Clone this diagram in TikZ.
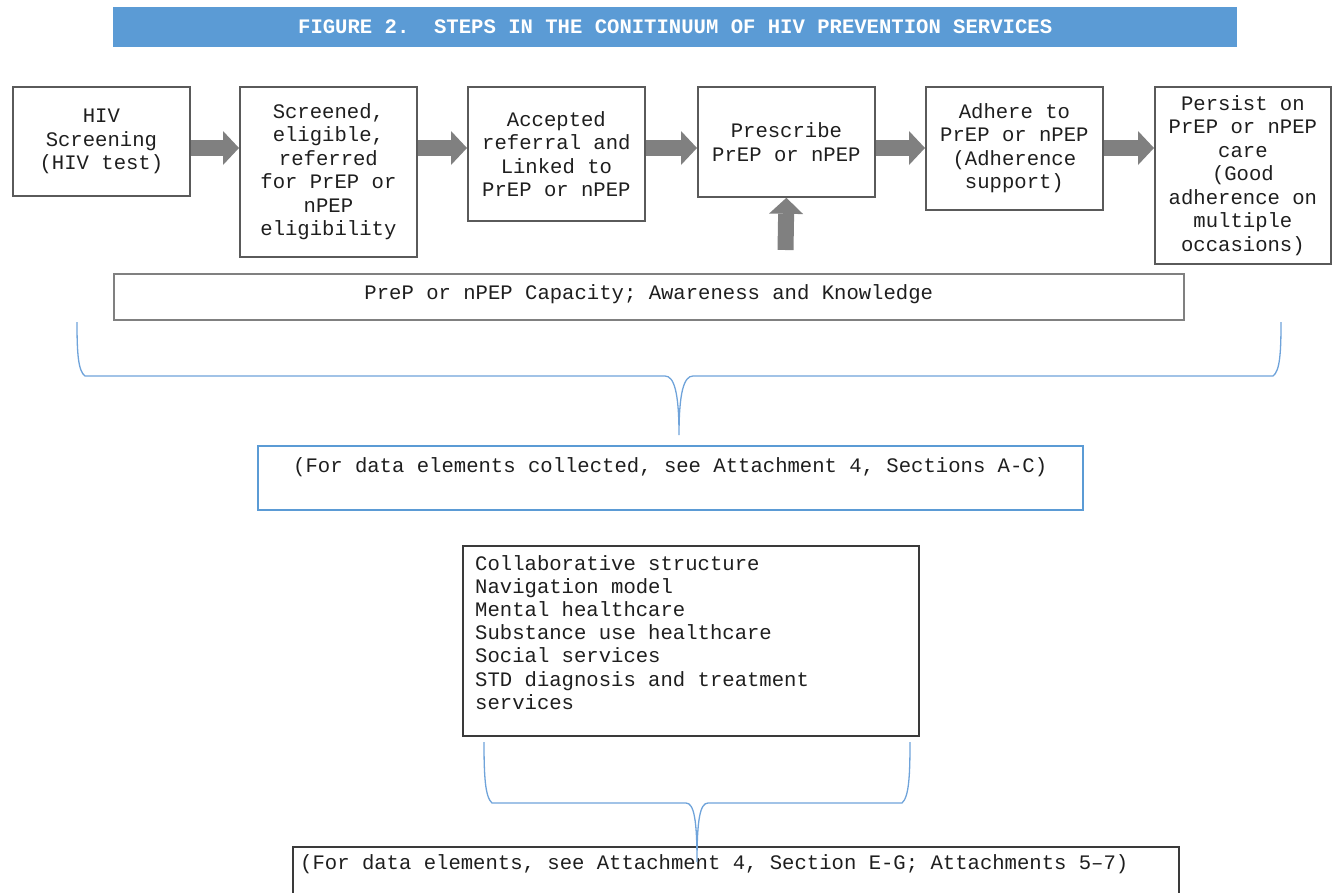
\documentclass[tikz,border=0pt]{standalone}
\usepackage{fontspec}
\setmonofont{Liberation Mono}
\usetikzlibrary{arrows.meta}
\definecolor{titleblue}{HTML}{5B9BD5}
\definecolor{braceblue}{HTML}{6FA3DA}
\definecolor{boxgray}{HTML}{5A5A5A}
\definecolor{capgray}{HTML}{808080}
\definecolor{darkline}{HTML}{3A3A3A}
\definecolor{arrowgray}{HTML}{808080}
\definecolor{txt}{HTML}{1E1E1E}
\frenchspacing
\begin{document}
\begin{tikzpicture}[x=1pt,y=-1pt,
  every node/.style={font=\ttfamily\fontsize{20.6}{23.5}\selectfont, text=txt},
  stepbox/.style={draw=boxgray, line width=1.8pt, anchor=north west, minimum width=177pt,
    align=center, inner sep=0pt},
  bigarrow/.style={draw=arrowgray, line width=16pt,
    -{Triangle[length=16pt,width=34pt,line width=0pt]}},
  brace/.style={draw=braceblue, line width=1.3pt},
  plainbox/.style={anchor=north west, inner sep=0pt},
]
\useasboundingbox (0,0) rectangle (1338,892);
\clip (0,0) rectangle (1338,892);

% title bar
\node[plainbox, fill=titleblue, minimum width=1124pt, minimum height=40pt, text=white,
  font=\ttfamily\bfseries\fontsize{20.6}{24}\selectfont] (title) at (113,7)
  {FIGURE 2.\ \ STEPS IN THE CONITINUUM OF HIV PREVENTION SERVICES};

% steps
\node[stepbox, minimum height=109pt] (b1) at (12,86) {HIV\\Screening\\(HIV test)};
\node[stepbox, minimum height=170pt] (b2) at (239,86) {Screened,\\eligible,\\referred\\for PrEP or\\nPEP\\eligibility};
\node[stepbox, minimum height=134pt] (b3) at (467,86) {Accepted\\referral and\\Linked to\\PrEP or nPEP};
\node[stepbox, minimum height=110pt] (b4) at (697,86) {Prescribe\\PrEP or nPEP};
\node[stepbox, minimum height=123pt] (b5) at (925,86) {Adhere to\\PrEP or nPEP\\(Adherence\\support)};
\node[stepbox, minimum height=177pt, minimum width=176pt] (b6) at (1154,86) {Persist on\\PrEP or nPEP\\care\\(Good\\adherence on\\multiple\\occasions)};

\foreach \a/\b in {b1/b2,b2/b3,b3/b4,b4/b5,b5/b6}
  \draw[bigarrow] ([yshift=-62pt]\a.north east) -- ([yshift=-62pt]\b.north west);

\coordinate (upfoot) at (785.5,250);
\draw[bigarrow] (upfoot) -- (b4.south);

% capacity box
\node[plainbox, draw=capgray, line width=1.6pt, minimum width=1070pt, minimum height=46pt,
  text depth=9pt] (cap) at (113,273) {PreP or nPEP Capacity; Awareness and Knowledge};

% brace 1
\coordinate (br1tip) at (679,435);
\draw[brace] (77,322) .. controls (77,352) and (78,371) .. (85,376) -- (665,376)
  .. controls (674,376) and (679,392) .. (br1tip)
  .. controls (679,392) and (684,376) .. (693,376) -- (1273,376)
  .. controls (1280,371) and (1281,352) .. (1281,322);

% data box 1
\node[plainbox, draw=titleblue, line width=1.5pt, minimum width=825pt, minimum height=64pt,
  text depth=26pt] (data1) at (257,445)
  {(For data elements collected, see Attachment 4, Sections A-C)};

% collaborative box
\node[plainbox, draw=darkline, line width=1.8pt, minimum width=456pt, minimum height=190pt] (collab) at (462,545) {};
\node[plainbox, align=left, font=\ttfamily\fontsize{20.6}{23.2}\selectfont] (collabtext)
  at ([xshift=13pt,yshift=-10pt]collab.north west)
  {Collaborative structure\\Navigation model\\Mental healthcare\\Substance use healthcare\\Social services\\STD diagnosis and treatment\\services};

% bottom box
\node[plainbox, draw=darkline, line width=1.5pt, minimum width=886pt, minimum height=80pt] (data2) at (292,846) {};
\node[plainbox] (data2text) at ([xshift=8pt,yshift=-8pt]data2.north west)
  {(For data elements, see Attachment 4, Section E-G; Attachments 5–7)};

% brace 2
\coordinate (br2tip) at (697,862);
\draw[brace] (484,742) .. controls (484,775) and (485,797) .. (492,803) -- (686,803)
  .. controls (694,803) and (697,820) .. (br2tip)
  .. controls (697,820) and (700,803) .. (708,803) -- (902,803)
  .. controls (909,797) and (910,775) .. (910,742);
\end{tikzpicture}
\end{document}
